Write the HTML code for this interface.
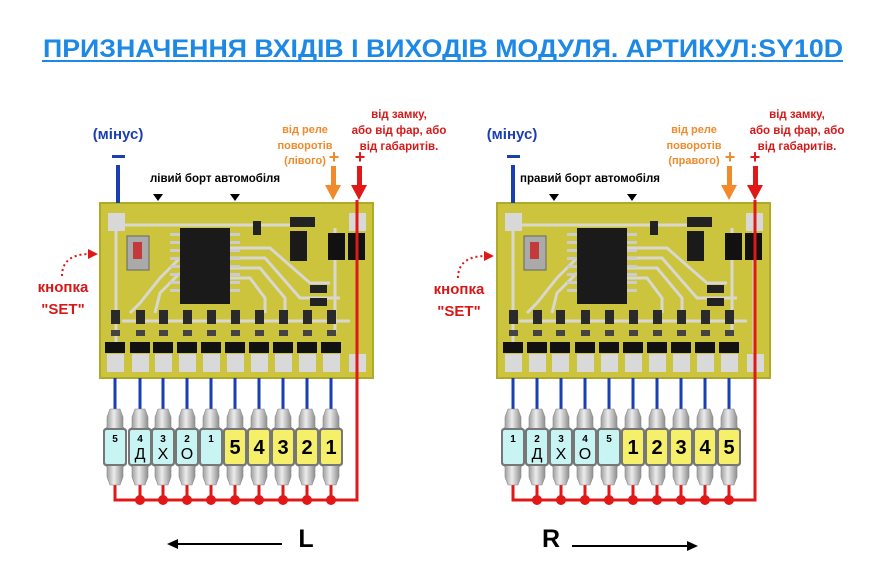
<!DOCTYPE html>
<html><head><meta charset="utf-8"><style>
html,body{margin:0;padding:0;background:#fff;}
svg{display:block;font-family:"Liberation Sans","DejaVu Sans",sans-serif;}
</style></head><body>
<svg width="887" height="576" viewBox="0 0 887 576" xmlns="http://www.w3.org/2000/svg">
<defs>
<linearGradient id="cap" x1="0" x2="1" y1="0" y2="0">
<stop offset="0" stop-color="#8a8a8a"/><stop offset="0.45" stop-color="#ececec"/><stop offset="1" stop-color="#7a7a7a"/>
</linearGradient>
<g id="bulb">
<path d="M-5,-38 L5,-38 L8,-30 L8,-20 L10,-18 L-10,-18 L-8,-20 L-8,-30 Z" fill="url(#cap)" stroke="#888" stroke-width="0.6"/>
<path d="M-5,38 L5,38 L8,30 L8,20 L10,18 L-10,18 L-8,20 L-8,30 Z" fill="url(#cap)" stroke="#888" stroke-width="0.6"/>
<rect x="-12" y="-19" width="24" height="38" rx="3" fill="#777"/>
</g>
<g id="col">
<rect x="-4" y="107" width="9" height="14" fill="#2a2a2a"/>
<rect x="-4" y="127" width="9" height="6" fill="#444"/>
<rect x="-10" y="139" width="20" height="11" fill="#111"/>
<rect x="-8" y="151" width="17" height="18" fill="#d9d9d9"/>
</g>
<g id="board">
<rect x="0" y="0" width="273" height="175" fill="#cbc43c"/>
<rect x="0" y="0" width="273" height="175" fill="none" stroke="#b0a92c" stroke-width="2"/>
<g stroke="#d8d8d0" stroke-width="3" fill="none">
<path d="M16,12 V150"/><path d="M16,22 H190"/><path d="M257,12 V150"/>
<path d="M130,45 L170,45 L210,80 L230,80"/><path d="M130,55 L165,55 L200,95 L240,95"/>
<path d="M130,65 L160,65 L185,95 L185,110"/><path d="M130,75 L150,75 L165,95 L165,110"/>
<path d="M80,55 L60,75 L40,100 L30,110"/><path d="M80,70 L60,90 L55,110"/>
<path d="M22,118 H250"/><path d="M235,25 V130"/>
</g>
<rect x="8" y="10" width="17" height="18" fill="#d8d8d8"/>
<rect x="249" y="10" width="17" height="18" fill="#d8d8d8"/>
<rect x="27" y="33" width="22" height="34" fill="#aaa" stroke="#666"/>
<rect x="33" y="39" width="9" height="17" fill="#c23a3a"/>
<rect x="80" y="25" width="50" height="76" fill="#1a1a1a"/>
<g fill="#ccc"><rect x="70" y="30" width="10" height="3"/><rect x="70" y="38" width="10" height="3"/><rect x="70" y="46" width="10" height="3"/><rect x="70" y="54" width="10" height="3"/><rect x="70" y="62" width="10" height="3"/><rect x="70" y="70" width="10" height="3"/><rect x="70" y="78" width="10" height="3"/><rect x="70" y="86" width="10" height="3"/><rect x="130" y="30" width="10" height="3"/><rect x="130" y="38" width="10" height="3"/><rect x="130" y="46" width="10" height="3"/><rect x="130" y="54" width="10" height="3"/><rect x="130" y="62" width="10" height="3"/><rect x="130" y="70" width="10" height="3"/><rect x="130" y="78" width="10" height="3"/><rect x="130" y="86" width="10" height="3"/></g>
<rect x="190" y="14" width="25" height="10" fill="#222"/>
<rect x="190" y="28" width="17" height="30" fill="#1a1a1a"/>
<rect x="228" y="30" width="17" height="27" fill="#111"/><rect x="248" y="30" width="17" height="27" fill="#111"/>
<rect x="153" y="18" width="8" height="14" fill="#222"/>
<rect x="210" y="82" width="17" height="8" fill="#222"/><rect x="210" y="95" width="17" height="8" fill="#222"/>
</g>
</defs>

<text x="443" y="57" text-anchor="middle" font-size="25" font-weight="bold" fill="#1e88e5" textLength="800" lengthAdjust="spacingAndGlyphs">ПРИЗНАЧЕННЯ ВХІДІВ І ВИХОДІВ МОДУЛЯ. АРТИКУЛ:SY10D</text>
<rect x="42" y="60" width="801" height="2" fill="#1e88e5"/>

<g transform="translate(100,203)">
<use href="#board"/>
<use href="#col" x="15"/><use href="#col" x="40"/><use href="#col" x="63"/><use href="#col" x="87"/><use href="#col" x="111"/><use href="#col" x="135"/><use href="#col" x="159"/><use href="#col" x="183"/><use href="#col" x="207"/><use href="#col" x="231"/>
<rect x="249" y="151" width="17" height="18" fill="#d9d9d9"/>
</g>
<g transform="translate(497,203)">
<use href="#board"/>
<use href="#col" x="16"/><use href="#col" x="40"/><use href="#col" x="63"/><use href="#col" x="88"/><use href="#col" x="112"/><use href="#col" x="136"/><use href="#col" x="160"/><use href="#col" x="184"/><use href="#col" x="208"/><use href="#col" x="232"/>
<rect x="250" y="151" width="17" height="18" fill="#d9d9d9"/>
</g>

<g font-weight="bold">
<text x="118" y="139" text-anchor="middle" font-size="15" fill="#1a3fb0">(мінус)</text>
<rect x="112" y="155" width="13" height="3" fill="#1a3fb0"/>
<rect x="116" y="165" width="4" height="38" fill="#1a3fb0"/>
<text x="215" y="182" text-anchor="middle" font-size="11.5" fill="#000">лівий борт автомобіля</text>
<path d="M153,194 h10 l-5,7 z M230,194 h10 l-5,7 z" fill="#000"/>
<text x="305" y="133" text-anchor="middle" font-size="11" fill="#f08a2a">від реле</text>
<text x="305" y="149" text-anchor="middle" font-size="11" fill="#f08a2a">поворотів</text>
<text x="305" y="164" text-anchor="middle" font-size="11" fill="#f08a2a">(лівого)</text>
<text x="334" y="163" text-anchor="middle" font-size="18" fill="#f08a2a">+</text>
<rect x="331" y="166" width="5" height="20" fill="#f08a2a"/><path d="M325,185 h16 l-8,15 z" fill="#f08a2a"/>
<text x="360" y="163" text-anchor="middle" font-size="18" fill="#e01818">+</text>
<rect x="357" y="166" width="5" height="20" fill="#e01818"/><path d="M351,185 h16 l-8,15 z" fill="#e01818"/>
<text x="399" y="118" text-anchor="middle" font-size="11.5" fill="#d81818">від замку,</text>
<text x="399" y="134" text-anchor="middle" font-size="11.5" fill="#d81818">або від фар, або</text>
<text x="399" y="150" text-anchor="middle" font-size="11.5" fill="#d81818">від габаритів.</text>
<text x="63" y="292" text-anchor="middle" font-size="15" fill="#d81818">кнопка</text>
<text x="63" y="314" text-anchor="middle" font-size="15" fill="#d81818">"SET"</text>
<path d="M62,276 Q62,255 88,254" stroke="#e01818" stroke-width="2" stroke-dasharray="2,3" fill="none"/><path d="M88,249 l10,5 l-10,5 z" fill="#e01818"/>

<text x="512" y="139" text-anchor="middle" font-size="15" fill="#1a3fb0">(мінус)</text>
<rect x="507" y="155" width="13" height="3" fill="#1a3fb0"/>
<rect x="511" y="165" width="4" height="38" fill="#1a3fb0"/>
<text x="590" y="182" text-anchor="middle" font-size="11.5" fill="#000">правий борт автомобіля</text>
<path d="M549,194 h10 l-5,7 z M627,194 h10 l-5,7 z" fill="#000"/>
<text x="694" y="133" text-anchor="middle" font-size="11" fill="#f08a2a">від реле</text>
<text x="694" y="149" text-anchor="middle" font-size="11" fill="#f08a2a">поворотів</text>
<text x="694" y="164" text-anchor="middle" font-size="11" fill="#f08a2a">(правого)</text>
<text x="730" y="163" text-anchor="middle" font-size="18" fill="#f08a2a">+</text>
<rect x="727" y="166" width="5" height="20" fill="#f08a2a"/><path d="M721,185 h16 l-8,15 z" fill="#f08a2a"/>
<text x="755" y="163" text-anchor="middle" font-size="18" fill="#e01818">+</text>
<rect x="753" y="166" width="5" height="20" fill="#e01818"/><path d="M747,185 h16 l-8,15 z" fill="#e01818"/>
<text x="797" y="118" text-anchor="middle" font-size="11.5" fill="#d81818">від замку,</text>
<text x="797" y="134" text-anchor="middle" font-size="11.5" fill="#d81818">або від фар, або</text>
<text x="797" y="150" text-anchor="middle" font-size="11.5" fill="#d81818">від габаритів.</text>
<text x="459" y="294" text-anchor="middle" font-size="15" fill="#d81818">кнопка</text>
<text x="459" y="316" text-anchor="middle" font-size="15" fill="#d81818">"SET"</text>
<path d="M458,278 Q458,257 484,256" stroke="#e01818" stroke-width="2" stroke-dasharray="2,3" fill="none"/><path d="M484,251 l10,5 l-10,5 z" fill="#e01818"/>
</g>

<g stroke="#1a3fb0" stroke-width="3">
<path d="M115,378V412 M140,378V412 M163,378V412 M187,378V412 M211,378V412 M235,378V412 M259,378V412 M283,378V412 M307,378V412 M331,378V412"/>
<path d="M513,378V412 M537,378V412 M561,378V412 M585,378V412 M609,378V412 M633,378V412 M657,378V412 M681,378V412 M705,378V412 M729,378V412"/>
</g>
<g stroke="#e01818" stroke-width="3" fill="none">
<path d="M357,200V500H115V484 M140,484V500 M163,484V500 M187,484V500 M211,484V500 M235,484V500 M259,484V500 M283,484V500 M307,484V500 M331,484V500"/>
<path d="M755,200V500H513V484 M537,484V500 M561,484V500 M585,484V500 M609,484V500 M633,484V500 M657,484V500 M681,484V500 M705,484V500 M729,484V500"/>
</g>
<g fill="#e01818">
<circle cx="140" cy="500" r="5"/><circle cx="163" cy="500" r="5"/><circle cx="187" cy="500" r="5"/><circle cx="211" cy="500" r="5"/><circle cx="235" cy="500" r="5"/><circle cx="259" cy="500" r="5"/><circle cx="283" cy="500" r="5"/><circle cx="307" cy="500" r="5"/><circle cx="331" cy="500" r="5"/>
<circle cx="537" cy="500" r="5"/><circle cx="561" cy="500" r="5"/><circle cx="585" cy="500" r="5"/><circle cx="609" cy="500" r="5"/><circle cx="633" cy="500" r="5"/><circle cx="657" cy="500" r="5"/><circle cx="681" cy="500" r="5"/><circle cx="705" cy="500" r="5"/><circle cx="729" cy="500" r="5"/>
</g>
<g transform="translate(0,447)">
<use href="#bulb" x="115"/><use href="#bulb" x="140"/><use href="#bulb" x="163"/><use href="#bulb" x="187"/><use href="#bulb" x="211"/><use href="#bulb" x="235"/><use href="#bulb" x="259"/><use href="#bulb" x="283"/><use href="#bulb" x="307"/><use href="#bulb" x="331"/>
<use href="#bulb" x="513"/><use href="#bulb" x="537"/><use href="#bulb" x="561"/><use href="#bulb" x="585"/><use href="#bulb" x="609"/><use href="#bulb" x="633"/><use href="#bulb" x="657"/><use href="#bulb" x="681"/><use href="#bulb" x="705"/><use href="#bulb" x="729"/>
</g>
<g>
<g fill="#c8f4f4"><rect x="105" y="430" width="20" height="34" rx="2"/><rect x="130" y="430" width="20" height="34" rx="2"/><rect x="153" y="430" width="20" height="34" rx="2"/><rect x="177" y="430" width="20" height="34" rx="2"/><rect x="201" y="430" width="20" height="34" rx="2"/>
<rect x="503" y="430" width="20" height="34" rx="2"/><rect x="527" y="430" width="20" height="34" rx="2"/><rect x="551" y="430" width="20" height="34" rx="2"/><rect x="575" y="430" width="20" height="34" rx="2"/><rect x="599" y="430" width="20" height="34" rx="2"/></g>
<g fill="#f6ef6a"><rect x="225" y="430" width="20" height="34" rx="2"/><rect x="249" y="430" width="20" height="34" rx="2"/><rect x="273" y="430" width="20" height="34" rx="2"/><rect x="297" y="430" width="20" height="34" rx="2"/><rect x="321" y="430" width="20" height="34" rx="2"/>
<rect x="623" y="430" width="20" height="34" rx="2"/><rect x="647" y="430" width="20" height="34" rx="2"/><rect x="671" y="430" width="20" height="34" rx="2"/><rect x="695" y="430" width="20" height="34" rx="2"/><rect x="719" y="430" width="20" height="34" rx="2"/></g>
</g>
<g font-weight="bold" text-anchor="middle" fill="#000">
<g font-size="10"><text x="115" y="442">5</text><text x="140" y="442">4</text><text x="163" y="442">3</text><text x="187" y="442">2</text><text x="211" y="442">1</text>
<text x="513" y="442">1</text><text x="537" y="442">2</text><text x="561" y="442">3</text><text x="585" y="442">4</text><text x="609" y="442">5</text></g>
<g font-size="16" font-weight="normal"><text x="140" y="459">Д</text><text x="163" y="459">Х</text><text x="187" y="459">О</text>
<text x="537" y="459">Д</text><text x="561" y="459">Х</text><text x="585" y="459">О</text></g>
<g font-size="20"><text x="235" y="454">5</text><text x="259" y="454">4</text><text x="283" y="454">3</text><text x="307" y="454">2</text><text x="331" y="454">1</text>
<text x="633" y="454">1</text><text x="657" y="454">2</text><text x="681" y="454">3</text><text x="705" y="454">4</text><text x="729" y="454">5</text></g>
<text x="306" y="547" font-size="25">L</text>
<text x="551" y="547" font-size="25">R</text>
</g>
<rect x="176" y="543" width="106" height="2" fill="#000"/><path d="M167,544 l11,-5 v10 z" fill="#000"/>
<rect x="572" y="545" width="116" height="2" fill="#000"/><path d="M698,546 l-11,-5 v10 z" fill="#000"/>
</svg>
</body></html>
